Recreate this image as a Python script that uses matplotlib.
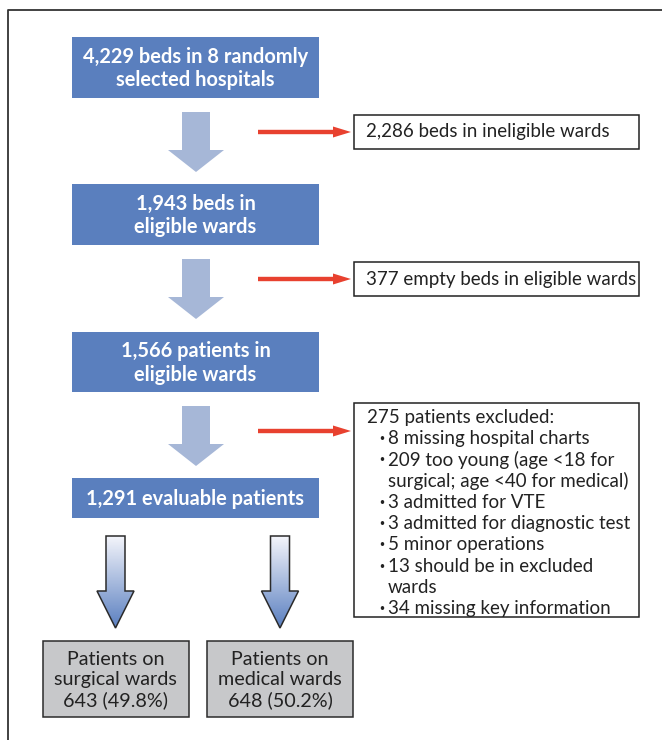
import matplotlib.pyplot as plt
import numpy as np
from matplotlib.patches import Rectangle, Polygon
from matplotlib.colors import LinearSegmentedColormap

# Flow chart numbers
total_beds = 4229
n_hospitals = 8
ineligible_beds = 2286
eligible_beds = 1943
empty_beds = 377
eligible_patients = 1566
excluded_total = 275
excl_counts = [8, 209, 3, 3, 5, 13, 34]
excl_reasons = ['missing hospital charts',
                'too young (age <18 for\nsurgical; age <40 for medical)',
                'admitted for VTE',
                'admitted for diagnostic test',
                'minor operations',
                'should be in excluded\nwards',
                'missing key information']
evaluable = 1291
ward_names = ['surgical', 'medical']
ward_counts = [643, 648]

# colours
blue = '#5a7fbe'
light = '#a6b7d7'
red = '#e8412f'
grey = '#c7c8ca'
FONT = 'Lato'
FS = 13.5

fig = plt.figure(figsize=(6.62, 7.40), dpi=100)
ax = fig.add_axes([0, 0, 1, 1])
ax.set_xlim(0, 662)
ax.set_ylim(740, 0)
ax.axis('off')

# outer frame (runs off right/bottom)
ax.plot([8, 8, 670], [750, 10, 10], color='#333333', lw=1.3, solid_capstyle='butt')


def main_box(y0, y1, txt):
    ax.add_patch(Rectangle((72, y0), 247, y1 - y0, facecolor=blue, edgecolor='none'))
    ax.text(195.5, (y0 + y1) / 2 + 1, txt, ha='center', va='center', color='white',
            fontsize=14.4, fontweight='bold', family=FONT, linespacing=1.22)


def down_arrow(y0, yh, yt):
    cx = 196
    pts = [(cx - 14, y0), (cx + 14, y0), (cx + 14, yh), (cx + 28, yh),
           (cx, yt), (cx - 28, yh), (cx - 14, yh)]
    ax.add_patch(Polygon(pts, closed=True, facecolor=light, edgecolor='none'))


def red_arrow(y):
    ax.add_patch(Polygon([(258, y - 2.2), (333, y - 2.2), (333, y - 5.5), (351, y),
                          (333, y + 5.5), (333, y + 2.2), (258, y + 2.2)],
                         closed=True, facecolor=red, edgecolor='none'))


def side_box(y0, y1):
    ax.add_patch(Rectangle((354, y0), 285, y1 - y0, facecolor='white',
                           edgecolor='#222222', lw=1.1))


main_box(37, 98, f'{total_beds:,} beds in {n_hospitals} randomly\nselected hospitals')
down_arrow(112, 150, 172)
red_arrow(132)
side_box(115, 149)
ax.text(366, 132, f'{ineligible_beds:,} beds in ineligible wards', ha='left', va='center',
        fontsize=FS, family=FONT, color='#222222')

main_box(184, 245, f'{eligible_beds:,} beds in\neligible wards')
down_arrow(259, 297, 319)
red_arrow(279)
side_box(262, 296)
ax.text(366, 279, f'{empty_beds} empty beds in eligible wards', ha='left', va='center',
        fontsize=FS, family=FONT, color='#222222')

main_box(332, 392, f'{eligible_patients:,} patients in\neligible wards')
down_arrow(406, 444, 466)
red_arrow(431)
side_box(403, 617)

# exclusion list
line_h = 21.3
yy = 417
ax.text(367, yy, f'{excluded_total} patients excluded:', ha='left', va='center',
        fontsize=FS, family=FONT, color='#222222')
for n, reason in zip(excl_counts, excl_reasons):
    parts = reason.split('\n')
    for k, part in enumerate(parts):
        yy += line_h
        if k == 0:
            ax.text(379, yy, '·', ha='left', va='center', fontsize=FS, family=FONT,
                    color='#222222', fontweight='bold')
            part = f'{n} {part}'
        ax.text(388, yy, part, ha='left', va='center', fontsize=FS, family=FONT,
                color='#222222')

main_box(478, 518, f'{evaluable:,} evaluable patients')

# gradient arrows to the two ward boxes
cmap = LinearSegmentedColormap.from_list('g', ['#f4f5fb', '#5a7fc0'])
grad = np.linspace(0, 1, 256).reshape(-1, 1)
centers = [115.5, 280]
for cx in centers:
    pts = [(cx - 9.5, 536), (cx + 9.5, 536), (cx + 9.5, 591), (cx + 18.5, 591),
           (cx, 628), (cx - 18.5, 591), (cx - 9.5, 591)]
    poly = Polygon(pts, closed=True, facecolor='none', edgecolor='#2b2b2b', lw=1.1, zorder=3)
    ax.add_patch(poly)
    im = ax.imshow(grad, cmap=cmap, aspect='auto', extent=(cx - 19, cx + 19, 628, 536),
                   zorder=2)
    im.set_clip_path(poly)

# ward boxes
total_wards = sum(ward_counts)
for cx, name, cnt in zip(centers, ward_names, ward_counts):
    ax.add_patch(Rectangle((cx - 73, 641), 146, 76, facecolor=grey, edgecolor='#2b2b2b', lw=1.1))
    ax.text(cx, 680, f'Patients on\n{name} wards\n{cnt} ({cnt / total_wards * 100:.1f}%)',
            ha='center', va='center', fontsize=14.2, family=FONT, color='#222222',
            linespacing=1.22)

ax.set_xlim(0, 662)
ax.set_ylim(740, 0)
fig.savefig('out.png', dpi=100, facecolor='white')
